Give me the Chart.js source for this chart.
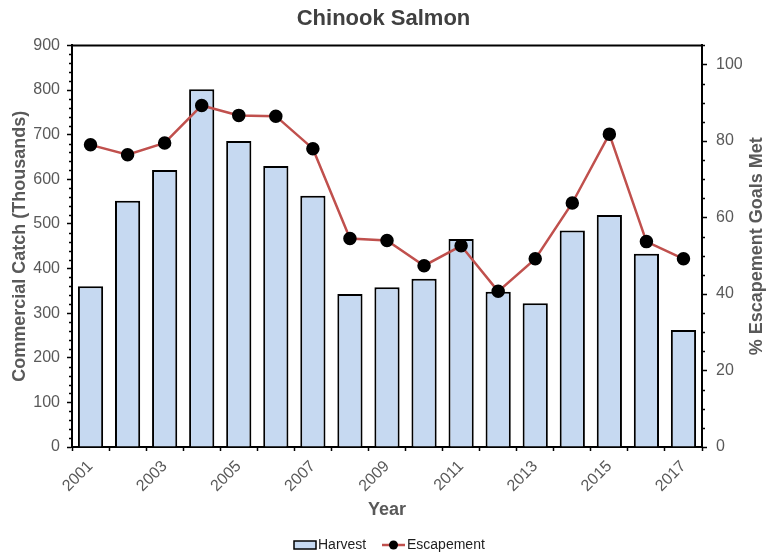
<!DOCTYPE html>
<html>
<head>
<meta charset="utf-8">
<title>Chinook Salmon</title>
<script src="https://cdn.jsdelivr.net/npm/chart.js@4.4.0/dist/chart.umd.min.js"></script>
<style>
  html, body { margin: 0; padding: 0; background: #fff; }
  #wrap { width: 767px; height: 558px; }
</style>
</head>
<body>
<div id="wrap"><canvas id="chart" width="767" height="558"></canvas></div>
<script>
// data
const years = ['2001', '2002', '2003', '2004', '2005', '2006', '2007', '2008', '2009',
               '2010', '2011', '2012', '2013', '2014', '2015', '2016', '2017'];
const harvest = [360, 552, 621, 802, 686, 630, 563, 343, 358, 377, 466, 348, 322, 485, 520, 433, 262];
const escapement = [79, 76.4, 79.5, 89.3, 86.7, 86.5, 78, 54.5, 54, 47.4, 52.6, 40.7, 49.2, 63.8, 81.8, 53.7, 49.2];

// axis ranges
const catchMax = 900, catchMajor = 100, catchMinor = 20;
const pctMax = 105, pctMajor = 20, pctMinor = 5;

const FONT = '"Liberation Sans", Arial, sans-serif';
const GREY = '#595959';
Chart.defaults.font.family = FONT;

// minor ticks, top frame line, right axis title and legend
const extras = {
  id: 'extras',
  afterDraw(chart) {
    const { ctx, chartArea: a } = chart;
    const yL = chart.scales.y, yR = chart.scales.y1;
    ctx.save();
    ctx.strokeStyle = '#000';
    ctx.lineWidth = 2;
    ctx.beginPath();
    ctx.moveTo(a.left - 1, a.top);
    ctx.lineTo(a.right + 1, a.top);
    ctx.stroke();

    ctx.lineWidth = 1.3;
    ctx.beginPath();
    for (let v = 0; v <= catchMax; v += catchMinor) {
      if (v % catchMajor === 0) continue;
      const py = Math.round(yL.getPixelForValue(v)) + 0.5;
      ctx.moveTo(a.left - 3, py); ctx.lineTo(a.left, py);
    }
    for (let v = 0; v <= pctMax; v += pctMinor) {
      if (v % pctMajor === 0) continue;
      const py = Math.round(yR.getPixelForValue(v)) + 0.5;
      ctx.moveTo(a.right, py); ctx.lineTo(a.right + 3, py);
    }
    ctx.stroke();

    // right axis title, reading bottom to top
    ctx.save();
    ctx.translate(757, (a.top + a.bottom) / 2);
    ctx.rotate(-Math.PI / 2);
    ctx.font = 'bold 18px ' + FONT;
    ctx.fillStyle = GREY;
    ctx.textAlign = 'center';
    ctx.textBaseline = 'middle';
    ctx.fillText('% Escapement Goals Met', 0, 0);
    ctx.restore();

    // legend
    const ly = 545;
    ctx.font = '14px ' + FONT;
    ctx.textBaseline = 'middle';
    ctx.textAlign = 'left';
    ctx.fillStyle = '#c6d9f1';
    ctx.fillRect(294, ly - 4, 22, 8);
    ctx.strokeStyle = '#000';
    ctx.lineWidth = 1.5;
    ctx.strokeRect(294, ly - 4, 22, 8);
    ctx.fillStyle = '#1e1e1e';
    ctx.fillText('Harvest', 318, ly);

    ctx.strokeStyle = '#c0504d';
    ctx.lineWidth = 2.5;
    ctx.beginPath();
    ctx.moveTo(382, ly); ctx.lineTo(405, ly);
    ctx.stroke();
    ctx.fillStyle = '#000';
    ctx.beginPath();
    ctx.arc(393.5, ly, 4.5, 0, Math.PI * 2);
    ctx.fill();
    ctx.fillStyle = '#1e1e1e';
    ctx.fillText('Escapement', 407, ly);
    ctx.restore();
  }
};

new Chart(document.getElementById('chart'), {
  data: {
    labels: years,
    datasets: [
      {
        type: 'line',
        label: 'Escapement',
        data: escapement,
        yAxisID: 'y1',
        order: 0,
        borderColor: '#c0504d',
        borderWidth: 2.5,
        pointRadius: 5.5,
        pointBackgroundColor: '#000',
        pointBorderColor: '#000',
        tension: 0
      },
      {
        type: 'bar',
        label: 'Harvest',
        data: harvest,
        yAxisID: 'y',
        order: 1,
        backgroundColor: '#c6d9f1',
        borderColor: '#000',
        borderWidth: 2,
        categoryPercentage: 1,
        barPercentage: 0.68
      }
    ]
  },
  options: {
    responsive: false,
    animation: false,
    layout: { padding: 0 },
    plugins: {
      legend: { display: false },
      tooltip: { enabled: false },
      title: {
        display: true,
        text: 'Chinook Salmon',
        color: '#404040',
        font: { size: 22, weight: 'bold' },
        padding: { top: 6, bottom: 13 }
      }
    },
    scales: {
      x: {
        type: 'category',
        offset: true,
        grid: { offset: true, drawOnChartArea: false, tickLength: 4, color: '#000', tickWidth: 1.5 },
        border: { color: '#000', width: 2 },
        ticks: {
          autoSkip: false,
          maxRotation: 45,
          minRotation: 45,
          padding: 6,
          color: GREY,
          font: { size: 16 },
          callback(v, i) { return i % 2 === 0 ? this.getLabelForValue(v) : ''; }
        },
        title: {
          display: true,
          text: 'Year',
          color: GREY,
          font: { size: 18, weight: 'bold' },
          padding: { top: 4, bottom: 37 }
        },
        afterFit(s) { s.height = 111; }
      },
      y: {
        position: 'left',
        min: 0,
        max: catchMax,
        grid: { drawOnChartArea: false, tickLength: 5, color: '#000', tickWidth: 1.5 },
        border: { color: '#000', width: 2 },
        ticks: { stepSize: catchMajor, autoSkip: false, padding: 7, color: GREY, font: { size: 16 } },
        title: {
          display: true,
          text: 'Commercial Catch (Thousands)',
          color: GREY,
          font: { size: 18, weight: 'bold' },
          padding: { top: 9 }
        },
        afterFit(s) { s.width = 72; }
      },
      y1: {
        position: 'right',
        min: 0,
        max: pctMax,
        grid: { drawOnChartArea: false, tickLength: 5, color: '#000', tickWidth: 1.5 },
        border: { color: '#000', width: 2 },
        ticks: {
          stepSize: pctMinor,
          autoSkip: false,
          padding: 9,
          color: GREY,
          font: { size: 16 },
          callback: v => (v % pctMajor === 0 ? v : null)
        },
        afterFit(s) { s.width = 65; }
      }
    }
  },
  plugins: [extras]
});
</script>
</body>
</html>
